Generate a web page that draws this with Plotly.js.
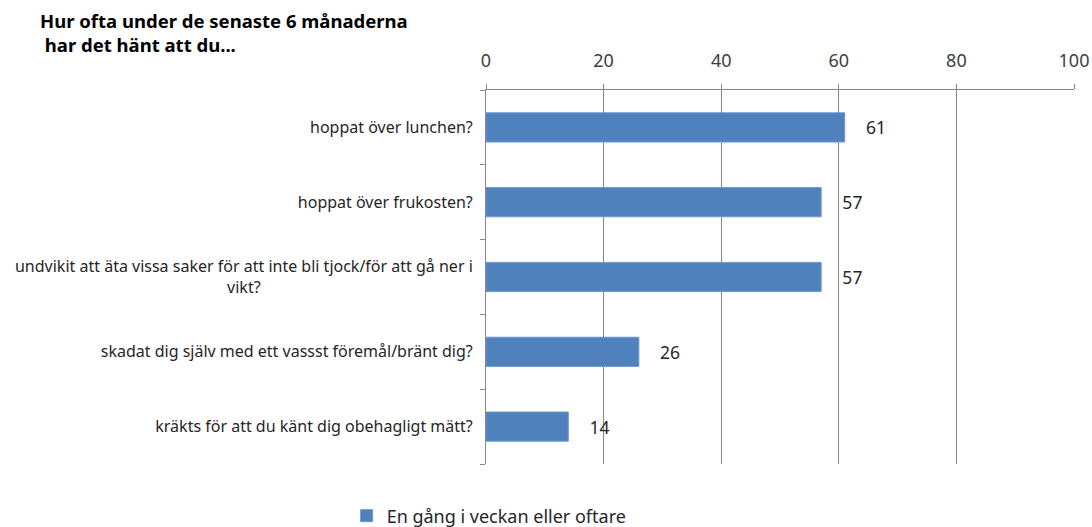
<!DOCTYPE html>
<html><head><meta charset="utf-8">
<script src="https://cdn.plot.ly/plotly-3.0.1.min.js"></script>
<style>html,body{margin:0;padding:0;background:#fff}#c{width:1092px;height:527px}</style>
</head><body><div id="c"></div>
<script>
const categories = [
  "hoppat över lunchen?",
  "hoppat över frukosten?",
  "undvikit att äta vissa saker för att inte bli tjock/för att gå ner i<br>vikt?",
  "skadat dig själv med ett vassst föremål/bränt dig?",
  "kräkts för att du känt dig obehagligt mätt?"
];
const values = [61, 57, 57, 26, 14];
const seriesName = "En gång i veckan eller oftare";
const xTicks = [0, 20, 40, 60, 80, 100];
const titleText = "Hur ofta under de senaste 6 månaderna<br> har det hänt att du...";

const FONT = "Noto Sans, Open Sans, sans-serif";
const LABEL_SIZE = 16;

// Center wrapped lines of category labels (tick labels are right-anchored)
const cv = document.createElement("canvas").getContext("2d");
cv.font = LABEL_SIZE + "px 'Noto Sans'";
const nbspW = cv.measureText("\u00a0").width || 4;
function centerLines(label) {
  const lines = label.split("<br>");
  if (lines.length < 2) return label;
  const widths = lines.map(l => cv.measureText(l).width);
  const maxW = Math.max(...widths);
  return lines.map((l, i) => l + "\u00a0".repeat(Math.round((maxW - widths[i]) / 2 / nbspW))).join("<br>");
}
const tickText = categories.map(centerLines);

const trace = {
  type: "bar", orientation: "h",
  x: values, y: categories, name: seriesName,
  marker: {color: "#4F81BD", line: {color: "#6E98CF", width: 1}},
  text: values.map(v => String(v)),
  texttemplate: "    %{text}",
  textposition: "outside",
  textfont: {family: FONT, size: 17.5, color: "#262626"},
  cliponaxis: false,
  hoverinfo: "skip"
};
const layout = {
  width: 1092, height: 527,
  margin: {l: 486, r: 18, t: 90, b: 63},
  paper_bgcolor: "#fff", plot_bgcolor: "#fff",
  font: {family: FONT, color: "#404040"},
  annotations: [{text: titleText, xref: "paper", yref: "paper", x: -0.762, y: 1.225,
    xanchor: "left", yanchor: "top", align: "left", showarrow: false,
    font: {family: FONT, size: 18.5, color: "#000", weight: "bold"}}],
  bargap: 0.61,
  showlegend: true,
  legend: {orientation: "h", x: -0.237, xanchor: "left", yref: "container", y: 0.021, yanchor: "middle",
    font: {family: FONT, size: 18, color: "#262626"}},
  xaxis: {side: "top", range: [0, 100], tickvals: xTicks, ticktext: xTicks.map(String),
    showgrid: true, gridcolor: "#868686", gridwidth: 1, automargin: false,
    showline: true, linecolor: "#868686", ticks: "outside", ticklen: 5, tickcolor: "#868686",
    ticklabelstandoff: 10,
    zeroline: false, tickfont: {family: FONT, size: 18, color: "#404040"}, fixedrange: true},
  yaxis: {autorange: "reversed", type: "category", showline: true, linecolor: "#868686",
    ticks: "outside", ticklen: 5, tickcolor: "#868686", tickson: "boundaries",
    tickvals: categories, ticktext: tickText,
    showgrid: false, ticklabelstandoff: 9, automargin: false,
    tickfont: {family: FONT, size: LABEL_SIZE, color: "#262626"}, fixedrange: true}
};
Plotly.newPlot("c", [trace], layout, {displayModeBar: false, staticPlot: true});
</script></body></html>
